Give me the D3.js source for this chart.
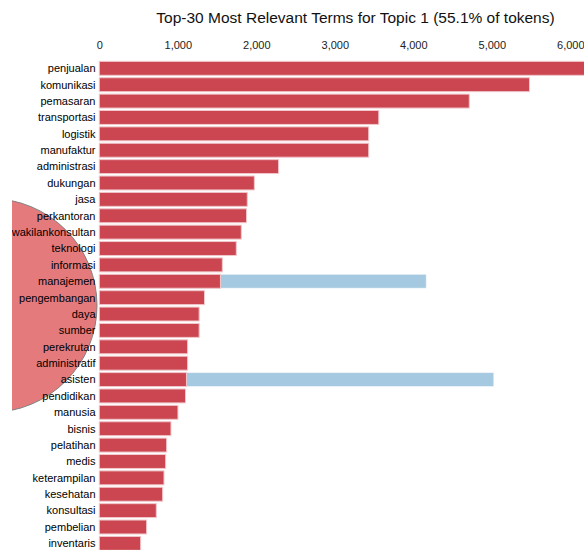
<!DOCTYPE html>
<html>
<head>
<meta charset="utf-8">
<script src="https://cdn.jsdelivr.net/npm/d3@7"></script>
<style>
  body { margin: 0; background: #fff; }
  svg { display: block; font-family: "Liberation Sans", Arial, sans-serif; }
</style>
</head>
<body>
<svg id="chart" width="584" height="550"></svg>
<script>
const terms = ["penjualan","komunikasi","pemasaran","transportasi","logistik","manufaktur","administrasi","dukungan","jasa","perkantoran","perwakilankonsultan","teknologi","informasi","manajemen","pengembangan","daya","sumber","perekrutan","administratif","asisten","pendidikan","manusia","bisnis","pelatihan","medis","keterampilan","kesehatan","konsultasi","pembelian","inventaris"];
const topicFreq = [6350,5480,4713,3560,3432,3432,2284,1975,1885,1876,1809,1745,1567,1543,1340,1272,1272,1125,1125,1110,1098,1002,913,858,845,824,807,726,603,527];
const totalFreq = [6350,5480,4713,3560,3432,3432,2284,1975,1885,1876,1809,1745,1567,4165,1340,1272,1272,1125,1125,5025,1098,1002,913,858,845,824,807,726,603,527];
const tickValues = [0,1000,2000,3000,4000,5000,6000];
const title = "Top-30 Most Relevant Terms for Topic 1 (55.1% of tokens)";

const W = 584, H = 550;
const svg = d3.select("#chart");

const x = d3.scaleLinear().domain([0, 6000]).range([99.3, 570.3]);
const y = d3.scaleBand().domain(terms).range([58.9, 552.8]).padding(0.15);

svg.append("defs").append("clipPath").attr("id", "leftclip")
  .append("rect").attr("x", 12).attr("y", 0).attr("width", W - 12).attr("height", H);

// topic circle from the neighbouring panel
svg.append("g").attr("clip-path", "url(#leftclip)")
  .append("circle")
  .attr("cx", -10).attr("cy", 305.5).attr("r", 107)
  .attr("fill", "#e57a7c").attr("stroke", "#808080").attr("stroke-width", 1);

// title
svg.append("text")
  .attr("x", 355.5).attr("y", 23)
  .attr("text-anchor", "middle")
  .attr("font-size", 15.5)
  .attr("fill", "#111")
  .text(title);

// ticks (top)
const axis = d3.axisTop(x).tickValues(tickValues).tickSize(0).tickPadding(0).tickFormat(d3.format(","));
const ax = svg.append("g").attr("transform", "translate(0,49)").call(axis);
ax.select(".domain").remove();
ax.selectAll("text").attr("font-size", 11).attr("fill", "#222").attr("font-family", "Liberation Sans, Arial, sans-serif").attr("dy", 0);

// total bars (blue)
svg.append("g").selectAll("rect").data(terms).join("rect")
  .attr("x", x(0))
  .attr("y", d => y(d))
  .attr("width", (d, i) => x(totalFreq[i]) - x(0))
  .attr("height", y.bandwidth())
  .attr("fill", "#1f77b4").attr("fill-opacity", 0.4)
  .attr("stroke", "#fff").attr("stroke-opacity", 0.5);

// topic bars (red)
svg.append("g").selectAll("rect").data(terms).join("rect")
  .attr("x", x(0))
  .attr("y", d => y(d))
  .attr("width", (d, i) => x(topicFreq[i]) - x(0))
  .attr("height", y.bandwidth())
  .attr("fill", "#cb4650")
  .attr("stroke", "#f2c8cc").attr("stroke-width", 1);

// term labels
svg.append("g").attr("clip-path", "url(#leftclip)")
  .selectAll("text").data(terms).join("text")
  .attr("x", 95.5)
  .attr("y", d => y(d) + y.bandwidth() / 2)
  .attr("dy", "0.35em")
  .attr("text-anchor", "end")
  .attr("font-size", 11)
  .attr("fill", "#000")
  .text(d => d);
</script>
</body>
</html>
